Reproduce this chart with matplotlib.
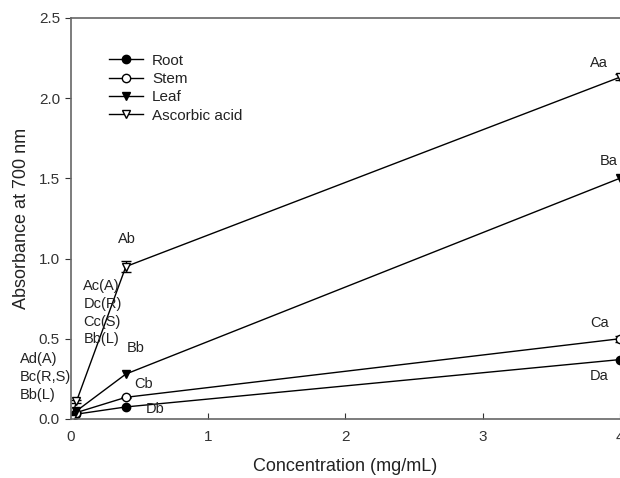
import matplotlib.pyplot as plt
import numpy as np

plt.rcParams['font.family'] = ['Liberation Sans', 'DejaVu Sans']

conc = [0.004, 0.04, 0.4, 4.0]
root = [0.02, 0.03, 0.075, 0.37]
stem = [0.02, 0.04, 0.135, 0.50]
leaf = [0.01, 0.05, 0.28, 1.50]
ascorbic = [0.0, 0.11, 0.95, 2.13]
ascorbic_err = [0.005, 0.01, 0.035, 0.02]
stem_err = [0.005, 0.005, 0.005, 0.02]

fig = plt.figure(figsize=(6.2, 4.78), dpi=100)
ax = fig.add_axes([0.1145, 0.1235, 0.885, 0.839])

ekw = dict(fmt='none', ecolor='black', elinewidth=1.0, capsize=3.6)
ax.errorbar(conc, stem, yerr=stem_err, **ekw)
ax.errorbar(conc, ascorbic, yerr=ascorbic_err, **ekw)

kw = dict(color='black', lw=1.0, ms=6)
ax.plot(conc, root, marker='o', mfc='black', label='Root', **kw)
ax.plot(conc, stem, marker='o', mfc='white', label='Stem', **kw)
ax.plot(conc, leaf, marker='v', mfc='black', label='Leaf', **kw)
ax.plot(conc, ascorbic, marker='v', mfc='white', label='Ascorbic acid', **kw)

ax.set_xlim(0, 4)
ax.set_ylim(0, 2.5)
ax.set_xticks([0, 1, 2, 3, 4])
ax.set_yticks([0.0, 0.5, 1.0, 1.5, 2.0, 2.5])
ax.set_yticklabels(['0.0', '0.5', '1.0', '1.5', '2.0', '2.5'])
ax.tick_params(axis='x', direction='in', length=4, labelsize=11, colors='#333333', pad=8)
ax.tick_params(axis='y', direction='out', length=4, labelsize=11, colors='#333333', pad=4)
ax.spines['right'].set_visible(False)
for s in ['left', 'top', 'bottom']:
    ax.spines[s].set_color('#666666')
    ax.spines[s].set_linewidth(1.2)

ax.set_xlabel('Concentration (mg/mL)', fontsize=13, color='#222222', labelpad=10)
ax.set_ylabel('Absorbance at 700 nm', fontsize=13, color='#222222', labelpad=6)

leg = ax.legend(loc='upper left', bbox_to_anchor=(0.045, 0.945), frameon=False,
                fontsize=11, handlelength=2.2, labelspacing=0.28, handletextpad=0.6)
for t in leg.get_texts():
    t.set_color('#222222')

tk = dict(fontsize=10.5, color='#222222', ha='center', va='center')
ax.text(3.85, 2.22, 'Aa', **tk)
ax.text(3.92, 1.61, 'Ba', **tk)
ax.text(3.85, 0.60, 'Ca', **tk)
ax.text(3.85, 0.27, 'Da', **tk)
ax.text(0.41, 1.12, 'Ab', **tk)
ax.text(0.47, 0.44, 'Bb', **tk)
ax.text(0.53, 0.22, 'Cb', **tk)
ax.text(0.61, 0.06, 'Db', **tk)
ax.text(0.09, 0.87, 'Ac(A)\nDc(R)\nCc(S)\nBb(L)', fontsize=10.5, color='#222222',
        ha='left', va='top', linespacing=1.33)
ax.text(-0.375, 0.415, 'Ad(A)\nBc(R,S)\nBb(L)', fontsize=10.5, color='#222222',
        ha='left', va='top', linespacing=1.33, clip_on=False)

fig.savefig('out.png', dpi=100)
